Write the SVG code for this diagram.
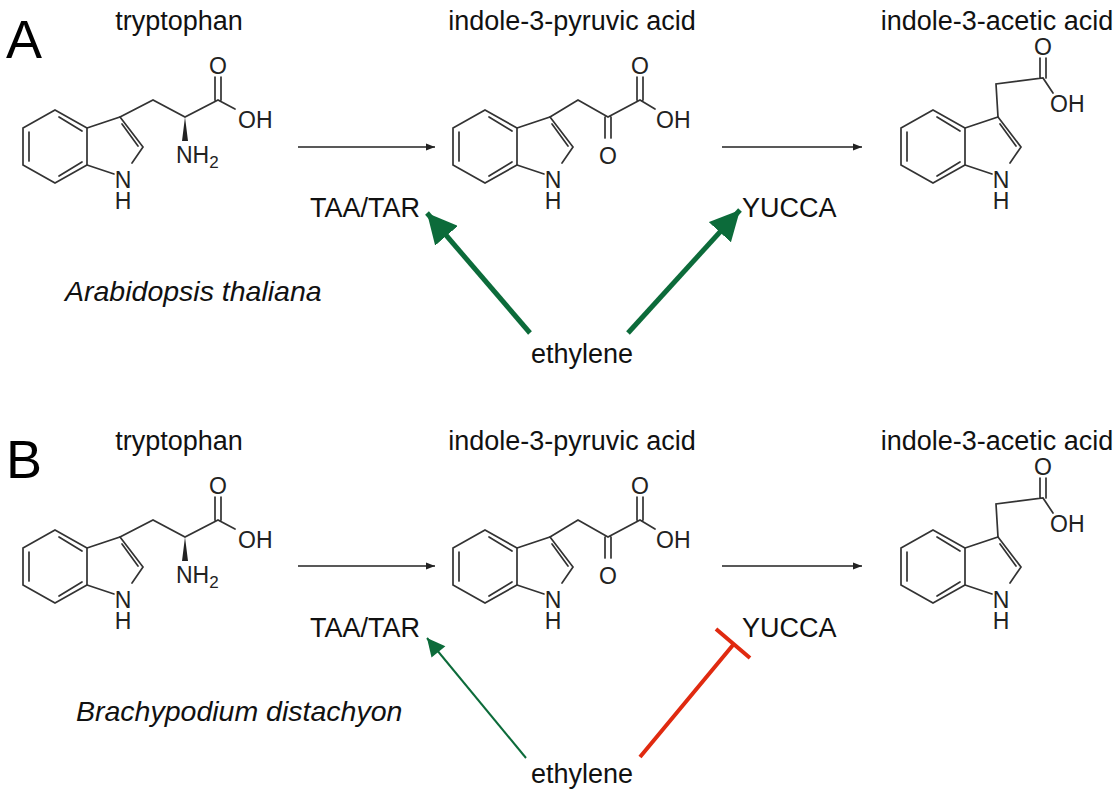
<svg xmlns="http://www.w3.org/2000/svg" xmlns:xlink="http://www.w3.org/1999/xlink" width="1119" height="800" viewBox="0 0 1119 800">
<style>
.b{stroke:#333;stroke-width:1.7;fill:none;stroke-linecap:round}
.t{font-family:"Liberation Sans",Arial,sans-serif;font-size:27px;fill:#111}
.a{font-family:"Liberation Sans",Arial,sans-serif;font-size:23px;fill:#222}
.L{font-family:"Liberation Sans",Arial,sans-serif;font-size:54px;fill:#000}
.i{font-style:italic;font-size:28.5px}
.k{stroke:#222;stroke-width:1.6;fill:none}
</style>
<defs>
<marker id="mk" viewBox="0 0 10 10" refX="10" refY="5" markerWidth="9" markerHeight="9" orient="auto" markerUnits="userSpaceOnUse"><path d="M0,1 L10,5 L0,9 Z" fill="#222"/></marker>
<marker id="mg" viewBox="0 0 10 10" refX="10" refY="5" markerWidth="6" markerHeight="6" orient="auto"><path d="M0,0 L10,5 L0,10 Z" fill="#0c6b3a"/></marker>
<marker id="mg2" viewBox="0 0 10 10" refX="10" refY="5" markerWidth="10" markerHeight="9" orient="auto"><path d="M0,0 L10,5 L0,10 Z" fill="#0c6b3a"/></marker>
<g id="indole">
<path class="b" d="M0,110 L32,128 L32,165 L0,183 L-32,165 L-32,128 Z"/>
<path class="b" d="M-26,132 L-26,161 M4,117 L27,131 M4,176 L27,162"/>
<path class="b" d="M32,128 L65,117 L88,147 L77,163 M32,165 L59,174 M67,124 L83,146"/>
<text class="a" x="68" y="188" text-anchor="middle">N</text>
<text class="a" x="68" y="209" text-anchor="middle">H</text>
</g>
<g id="trp">
<use xlink:href="#indole" transform="translate(55,0)"/>
<path class="b" d="M120,117 L153,100 L185,117 L218,100 L235,109 M215,100 L215,77 M221,100 L221,77"/>
<polygon points="185,117 182,141 188,141" fill="#222"/>
<text class="a" x="218" y="74" text-anchor="middle">O</text>
<text class="a" x="238" y="128">OH</text>
<text class="a" x="176" y="163">NH<tspan font-size="17" dy="5">2</tspan></text>
</g>
<g id="ipa">
<use xlink:href="#indole" transform="translate(485,0)"/>
<path class="b" d="M550,117 L578,100 L608,117 L640,100 L655,109 M605,117 L605,138 M611,117 L611,138 M637,100 L637,77 M643,100 L643,77"/>
<text class="a" x="608" y="164" text-anchor="middle">O</text>
<text class="a" x="640" y="74" text-anchor="middle">O</text>
<text class="a" x="656" y="128">OH</text>
</g>
<g id="iaa">
<use xlink:href="#indole" transform="translate(933,0)"/>
<path class="b" d="M998,117 L996,84 L1043,78 L1053,93 M1040,78 L1040,58 M1046,78 L1046,58"/>
<text class="a" x="1043" y="55" text-anchor="middle">O</text>
<text class="a" x="1050" y="112">OH</text>
</g>
</defs>
<g id="panelA">
<text class="L" x="6" y="58">A</text>
<g id="trpA"><text class="t" x="179" y="30" text-anchor="middle">tryptophan</text><use xlink:href="#trp"/></g>
<g id="ipaA"><text class="t" x="572" y="30" text-anchor="middle">indole-3-pyruvic acid</text><use xlink:href="#ipa"/></g>
<g id="iaaA"><text class="t" x="997" y="30" text-anchor="middle">indole-3-acetic acid</text><use xlink:href="#iaa"/></g>
<g id="taaA"><text class="t" x="310" y="217">TAA/TAR</text></g>
<g id="yuccaA"><text class="t" x="742" y="217">YUCCA</text></g>
<g id="ethA"><text class="t" x="582" y="363" text-anchor="middle">ethylene</text></g>
<text class="t i" x="65" y="301">Arabidopsis thaliana</text>
</g>
<g id="panelB">
<text class="L" x="6" y="478">B</text>
<g id="trpB"><text class="t" x="179" y="450" text-anchor="middle">tryptophan</text><use xlink:href="#trp" transform="translate(0,420)"/></g>
<g id="ipaB"><text class="t" x="572" y="450" text-anchor="middle">indole-3-pyruvic acid</text><use xlink:href="#ipa" transform="translate(0,420)"/></g>
<g id="iaaB"><text class="t" x="997" y="450" text-anchor="middle">indole-3-acetic acid</text><use xlink:href="#iaa" transform="translate(0,420)"/></g>
<g id="taaB"><text class="t" x="310" y="637">TAA/TAR</text></g>
<g id="yuccaB"><text class="t" x="742" y="637">YUCCA</text></g>
<g id="ethB"><text class="t" x="582" y="783" text-anchor="middle">ethylene</text></g>
<text class="t i" x="76" y="721">Brachypodium distachyon</text>
</g>
<g id="connectors">
<line class="k" x1="298" y1="147" x2="435" y2="147" marker-end="url(#mk)"/>
<line class="k" x1="722" y1="147" x2="862" y2="147" marker-end="url(#mk)"/>
<line class="k" x1="298" y1="566" x2="435" y2="566" marker-end="url(#mk)"/>
<line class="k" x1="722" y1="566" x2="862" y2="566" marker-end="url(#mk)"/>
<line x1="530" y1="333" x2="427" y2="213" stroke="#0c6b3a" stroke-width="5" marker-end="url(#mg)"/>
<line x1="628" y1="333" x2="740" y2="210" stroke="#0c6b3a" stroke-width="5" marker-end="url(#mg)"/>
<line x1="526" y1="758" x2="427" y2="638" stroke="#0c6b3a" stroke-width="2" marker-end="url(#mg2)"/>
<path d="M640,757 L733,645 M716,629 L750,658" stroke="#e02a10" stroke-width="4" fill="none"/>
</g>
</svg>
